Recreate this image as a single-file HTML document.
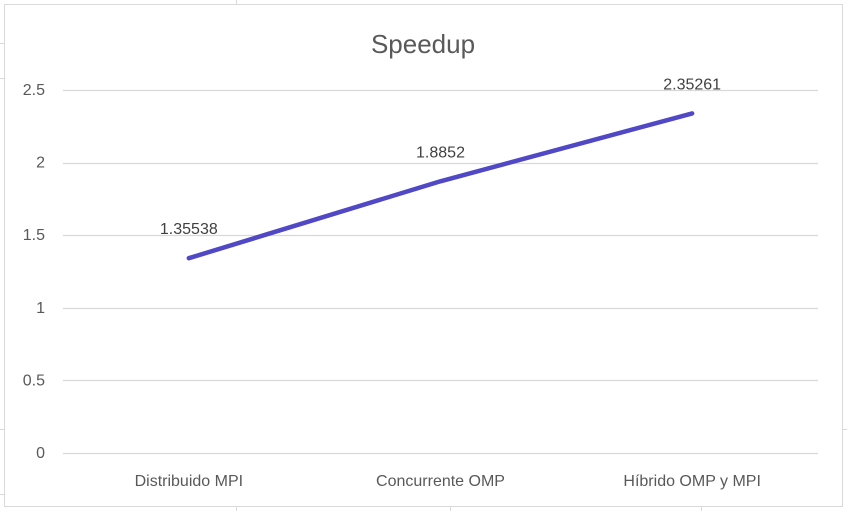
<!DOCTYPE html>
<html><head><meta charset="utf-8"><style>
html,body{margin:0;padding:0;background:#fff;}
svg{display:block;font-family:"Liberation Sans",sans-serif;}
</style></head><body>
<svg width="847" height="511">
<g stroke="#d9d9d9" stroke-width="1">
<line x1="236.5" y1="0" x2="236.5" y2="4"/><line x1="450.5" y1="507" x2="450.5" y2="511"/>
<line x1="236.5" y1="507" x2="236.5" y2="511"/><line x1="701.5" y1="507" x2="701.5" y2="511"/>
<line x1="0" y1="43.5" x2="4" y2="43.5"/><line x1="0" y1="78.5" x2="4" y2="78.5"/>
<line x1="0" y1="429.5" x2="4" y2="429.5"/><line x1="0" y1="494.5" x2="4" y2="494.5"/>
<line x1="843" y1="429.5" x2="847" y2="429.5"/>
</g>
<rect x="4.5" y="4.5" width="838" height="502" fill="#fff" stroke="#d9d9d9"/>
<text x="423" y="53" text-anchor="middle" font-size="26" fill="#595959">Speedup</text>
<g id="grid"></g><g id="yticks"></g><g id="xlabels"></g><g id="series"></g>
</svg>
<script>
const categories=["Distribuido MPI","Concurrente OMP","Híbrido OMP y MPI"];
const values=[1.35538,1.8852,2.35261];
const valueLabels=["1.35538","1.8852","2.35261"];
const yTicks=[0,0.5,1,1.5,2,2.5];
const yTickLabels=["0","0.5","1","1.5","2","2.5"];
const NS="http://www.w3.org/2000/svg";
const x0=63,x1=818,yBase=453,yTop=90,yMax=2.5;
function y(v){return yBase-(v/yMax)*(yBase-yTop);}
function x(i){const w=(x1-x0)/categories.length;return x0+w*(i+0.5);}
function mk(t,a,p){const e=document.createElementNS(NS,t);for(const k in a)e.setAttribute(k,a[k]);p.appendChild(e);return e;}
const grid=document.getElementById('grid'),yt=document.getElementById('yticks'),xl=document.getElementById('xlabels'),se=document.getElementById('series');
yTicks.forEach((v,i)=>{
 const l=mk('line',{x1:x0,x2:x1,y1:Math.round(y(v))+0.5,y2:Math.round(y(v))+0.5,stroke:'#d9d9d9','stroke-width':1.3},grid);
 
 
 const t=mk('text',{x:45,y:y(v)+5,'text-anchor':'end','font-size':16,fill:'#595959'},yt);
 t.textContent=yTickLabels[i];
 
 
});
categories.forEach((c,i)=>{
 const t=mk('text',{x:x(i),y:486,'text-anchor':'middle','font-size':16,fill:'#595959'},xl);
 t.textContent=c;
 
 
});
const pts=values.map((v,i)=>x(i)+','+(y(v)+2)).join(' ');
const pl=mk('polyline',{points:pts,fill:'none',stroke:'#5048c4','stroke-width':4.5,'stroke-linecap':'round','stroke-linejoin':'round'},se);


values.forEach((v,i)=>{
 const t=mk('text',{x:x(i),y:y(v)-22,'text-anchor':'middle','font-size':16,fill:'#404040'},se);
 t.textContent=valueLabels[i];
 
 
});
</script>
</body></html>
